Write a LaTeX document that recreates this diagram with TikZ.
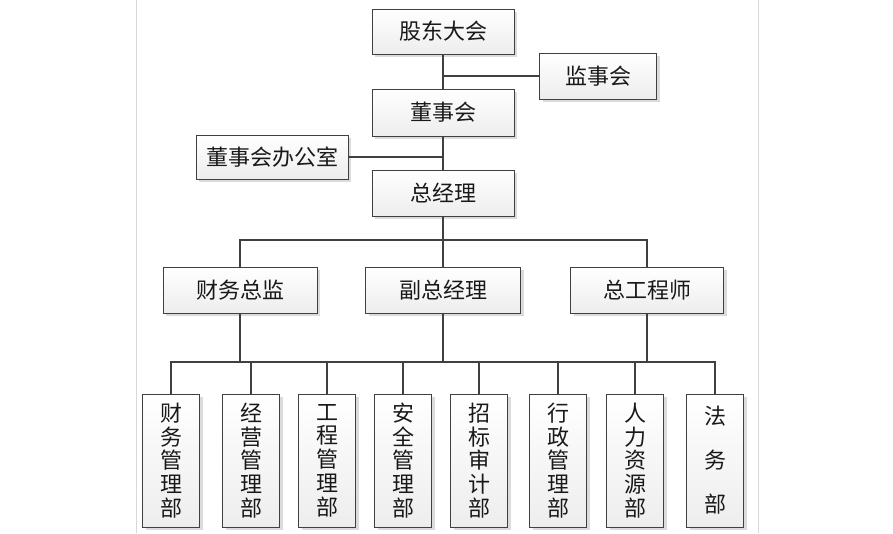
\documentclass[tikz,border=0pt]{standalone}
\usepackage{fontspec}
\newfontfamily\cjk{Noto Sans CJK SC}
\usetikzlibrary{shadows}
\definecolor{edge}{HTML}{404040}
\definecolor{page}{HTML}{D8D8D8}
\tikzset{
  orgbox/.style={draw=edge, line width=0.9pt, top color=white, bottom color=black!7,
    drop shadow={shadow xshift=3pt, shadow yshift=-3pt, fill=black!14, opacity=1},
    inner sep=0pt, font=\cjk\fontsize{22}{23.75}\selectfont, text=black!90, align=center},
  vbox/.style={orgbox, minimum width=57pt, minimum height=133pt},
  link/.style={draw=edge, line width=1.8pt},
}
\begin{document}
\begin{tikzpicture}[x=1pt,y=-1pt]
\useasboundingbox (0,0) rectangle (893,533);
\draw[page, line width=0.8pt] (136,0) -- (136,533);
\draw[page, line width=0.8pt] (758,0) -- (758,533);

\node[orgbox, minimum width=142pt, minimum height=45pt] (gd) at (443,31.5) {股东大会};
\node[orgbox, minimum width=142pt, minimum height=47pt] (ds) at (443,112.5) {董事会};
\node[orgbox, minimum width=142pt, minimum height=46pt] (zj) at (443,193) {总经理};
\node[orgbox, minimum width=117pt, minimum height=46pt] (js) at (598,76) {监事会};
\node[orgbox, minimum width=152pt, minimum height=44pt] (bgs) at (272,157) {董事会办公室};

\node[orgbox, minimum width=154pt, minimum height=46pt] (cw) at (240,290) {财务总监};
\node[orgbox, minimum width=155pt, minimum height=46pt] (fz) at (443,290) {副总经理};
\node[orgbox, minimum width=153pt, minimum height=46pt] (zg) at (647,290) {总工程师};

\node[vbox] (b1) at (171,460.5) {财\\务\\管\\理\\部};
\node[vbox] (b2) at (251,460.5) {经\\营\\管\\理\\部};
\node[vbox] (b3) at (327,460.5) {工\\程\\管\\理\\部};
\node[vbox] (b4) at (403,460.5) {安\\全\\管\\理\\部};
\node[vbox] (b5) at (479,460.5) {招\\标\\审\\计\\部};
\node[vbox] (b6) at (558,460.5) {行\\政\\管\\理\\部};
\node[vbox] (b7) at (635,460.5) {人\\力\\资\\源\\部};
\node[vbox, font=\cjk\fontsize{22}{44}\selectfont] (b8) at (715,460.5) {法\\务\\部};

\coordinate (busA) at (443,240);
\coordinate (busB) at (443,362);

\draw[link] (gd.south) -- (ds.north);
\draw[link] (ds.south) -- (zj.north);
\draw[link, line width=2.4pt] (js.west) -- (js.west -| gd.south);
\draw[link] (bgs.east) -- (bgs.east -| ds.south);
\draw[link] (zj.south) -- (busA);
\draw[link] (cw.north) |- (busA) -| (zg.north);
\draw[link] (busA) -- (fz.north);
\draw[link, line width=2.4pt] (cw.south) -- (cw.south |- busB);
\draw[link] (fz.south) -- (busB);
\draw[link] (zg.south) -- (zg.south |- busB);
\draw[link] (b1.north) |- (busB) -| (b8.north);
\foreach \b in {b2,b3,b4,b5,b6,b7}
  \draw[link] (\b.north) -- (\b.north |- busB);
\end{tikzpicture}
\end{document}
